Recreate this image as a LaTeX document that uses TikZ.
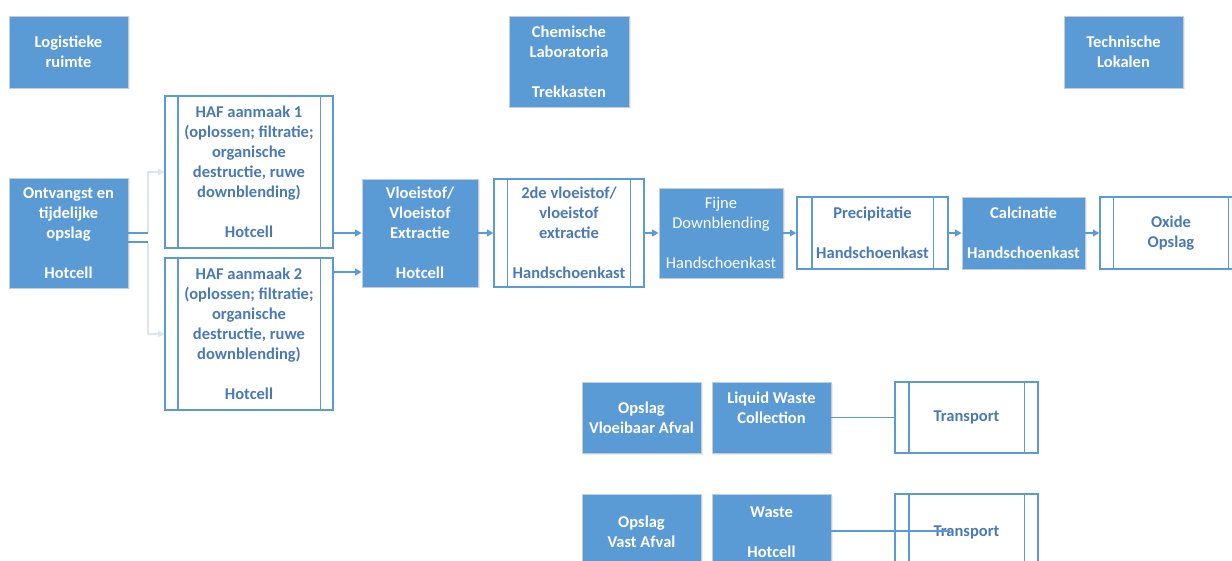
\documentclass[tikz,border=0pt]{standalone}
\usepackage{fontspec}
\setmainfont{Carlito}
\usetikzlibrary{arrows.meta,shadows}
\definecolor{boxblue}{HTML}{5B9BD5}
\definecolor{edgeblue}{HTML}{5B9BD5}
\definecolor{txtblue}{HTML}{4A7AB5}
\definecolor{faint}{HTML}{DCE6F1}
\definecolor{boxedge}{HTML}{C3CDD8}
\tikzset{
  base/.style={rectangle, inner sep=0pt, align=center, font=\fontsize{16.5}{20}\selectfont\bfseries},
  filled/.style={base, fill=boxblue, draw=boxedge, line width=0.8pt, text=white,
     drop shadow={opacity=0.15, shadow xshift=1.5pt, shadow yshift=-1.5pt}},
  outlined/.style={base, draw=edgeblue, line width=1.3pt, text=txtblue, fill=white},
  flow/.style={draw=edgeblue, line width=1.2pt, -{Triangle[length=6.5pt,width=7pt]}},
  faintflow/.style={draw=faint, line width=1.2pt, -{Triangle[length=6.5pt,width=7pt]}},
  plain/.style={draw=edgeblue, line width=1.2pt},
  innerline/.style={draw=edgeblue, line width=1.3pt}
}
\newcommand\subl[2]{%
  \draw[innerline] ([xshift=#2]#1.north west) -- ([xshift=#2]#1.south west);
  \draw[innerline] ([xshift=-#2]#1.north east) -- ([xshift=-#2]#1.south east);}
\begin{document}
\begin{tikzpicture}[x=1pt,y=-1pt]
\useasboundingbox (0,0) rectangle (1232,561);
\clip (0,0) rectangle (1232,561);

% top row
\node[filled, minimum width=119pt, minimum height=72pt] (log) at (68.5,52) {Logistieke\\ruimte};
\node[filled, minimum width=120pt, minimum height=91pt] (chem) at (569,61.5) {Chemische\\Laboratoria\\\mbox{}\\Trekkasten};
\node[filled, minimum width=119pt, minimum height=72pt] (tech) at (1123.5,52) {Technische\\Lokalen};

% main flow
\node[filled, minimum width=119pt, minimum height=110pt] (ontv) at (68.5,233) {Ontvangst en\\tijdelijke\\opslag\\\mbox{}\\Hotcell};
\node[outlined, minimum width=168pt, minimum height=152pt] (haf1) at (249,172) {HAF aanmaak 1\\(oplossen; filtratie;\\organische\\destructie, ruwe\\downblending)\\\mbox{}\\Hotcell};
\node[outlined, minimum width=168pt, minimum height=152pt] (haf2) at (249,334) {HAF aanmaak 2\\(oplossen; filtratie;\\organische\\destructie, ruwe\\downblending)\\\mbox{}\\Hotcell};
\node[filled, minimum width=116pt, minimum height=108pt] (vlo) at (420,233) {Vloeistof/\\Vloeistof\\Extractie\\\mbox{}\\Hotcell};
\node[outlined, minimum width=150pt, minimum height=108pt] (vlo2) at (569,233) {2de vloeistof/\\vloeistof\\extractie\\\mbox{}\\Handschoenkast};
\node[filled, minimum width=124pt, minimum height=90pt, font=\fontsize{16.5}{20}\selectfont] (fijn) at (721,233) {Fijne\\Downblending\\\mbox{}\\Handschoenkast};
\node[outlined, minimum width=151pt, minimum height=72pt] (prec) at (872.5,233) {Precipitatie\\\mbox{}\\Handschoenkast};
\node[filled, minimum width=123pt, minimum height=72pt] (calc) at (1023.5,233) {Calcinatie\\\mbox{}\\Handschoenkast};
\node[outlined, minimum width=142pt, minimum height=72pt] (oxide) at (1171,233) {Oxide\\Opslag};

% bottom rows
\node[filled, minimum width=119pt, minimum height=71pt] (ovl) at (641.5,417.5) {Opslag\\Vloeibaar Afval};
\node[filled, minimum width=119pt, minimum height=71pt] (lwc) at (771.5,417.5) {Liquid Waste\\Collection\\\mbox{}};
\node[outlined, minimum width=143pt, minimum height=71pt] (tr1) at (966.5,417.5) {Transport};
\node[filled, minimum width=119pt, minimum height=76pt] (ova) at (641.5,532) {Opslag\\Vast Afval};
\node[filled, minimum width=119pt, minimum height=76pt] (wh) at (771.5,532) {Waste\\\mbox{}\\Hotcell};
\node[outlined, minimum width=143pt, minimum height=76pt] (tr2) at (966.5,532) {Transport};

% subprocess bars
\subl{haf1}{13.5pt}
\subl{haf2}{13.5pt}
\subl{vlo2}{14pt}
\subl{prec}{15.5pt}
\subl{oxide}{14pt}
\subl{tr1}{14.5pt}
\subl{tr2}{14.5pt}

% connectors
\coordinate (j1) at (148,233);
\coordinate (j2) at (148,242);
\coordinate (h2y) at (0,272);
\coordinate (wend) at (950,531);
\draw[faintflow] (j1) |- (haf1.west);
\draw[faintflow] (j2) |- (haf2.west);
\draw[plain] (ontv.east) -- (j1);
\draw[plain] ([yshift=-9pt]ontv.east) -- (j2);
\draw[flow] (haf1.east |- vlo.west) -- (vlo.west);
\draw[flow] (haf2.east |- h2y) -- (vlo.west |- h2y);
\draw[flow] (vlo.east) -- (vlo2.west);
\draw[flow] (vlo2.east) -- (fijn.west);
\draw[flow] (fijn.east) -- (prec.west);
\draw[flow] (prec.east) -- (calc.west);
\draw[flow] (calc.east) -- (oxide.west);
\draw[plain] (lwc.east) -- (tr1.west);
\draw[plain] (wh.east |- wend) -- (wend);
\end{tikzpicture}
\end{document}
